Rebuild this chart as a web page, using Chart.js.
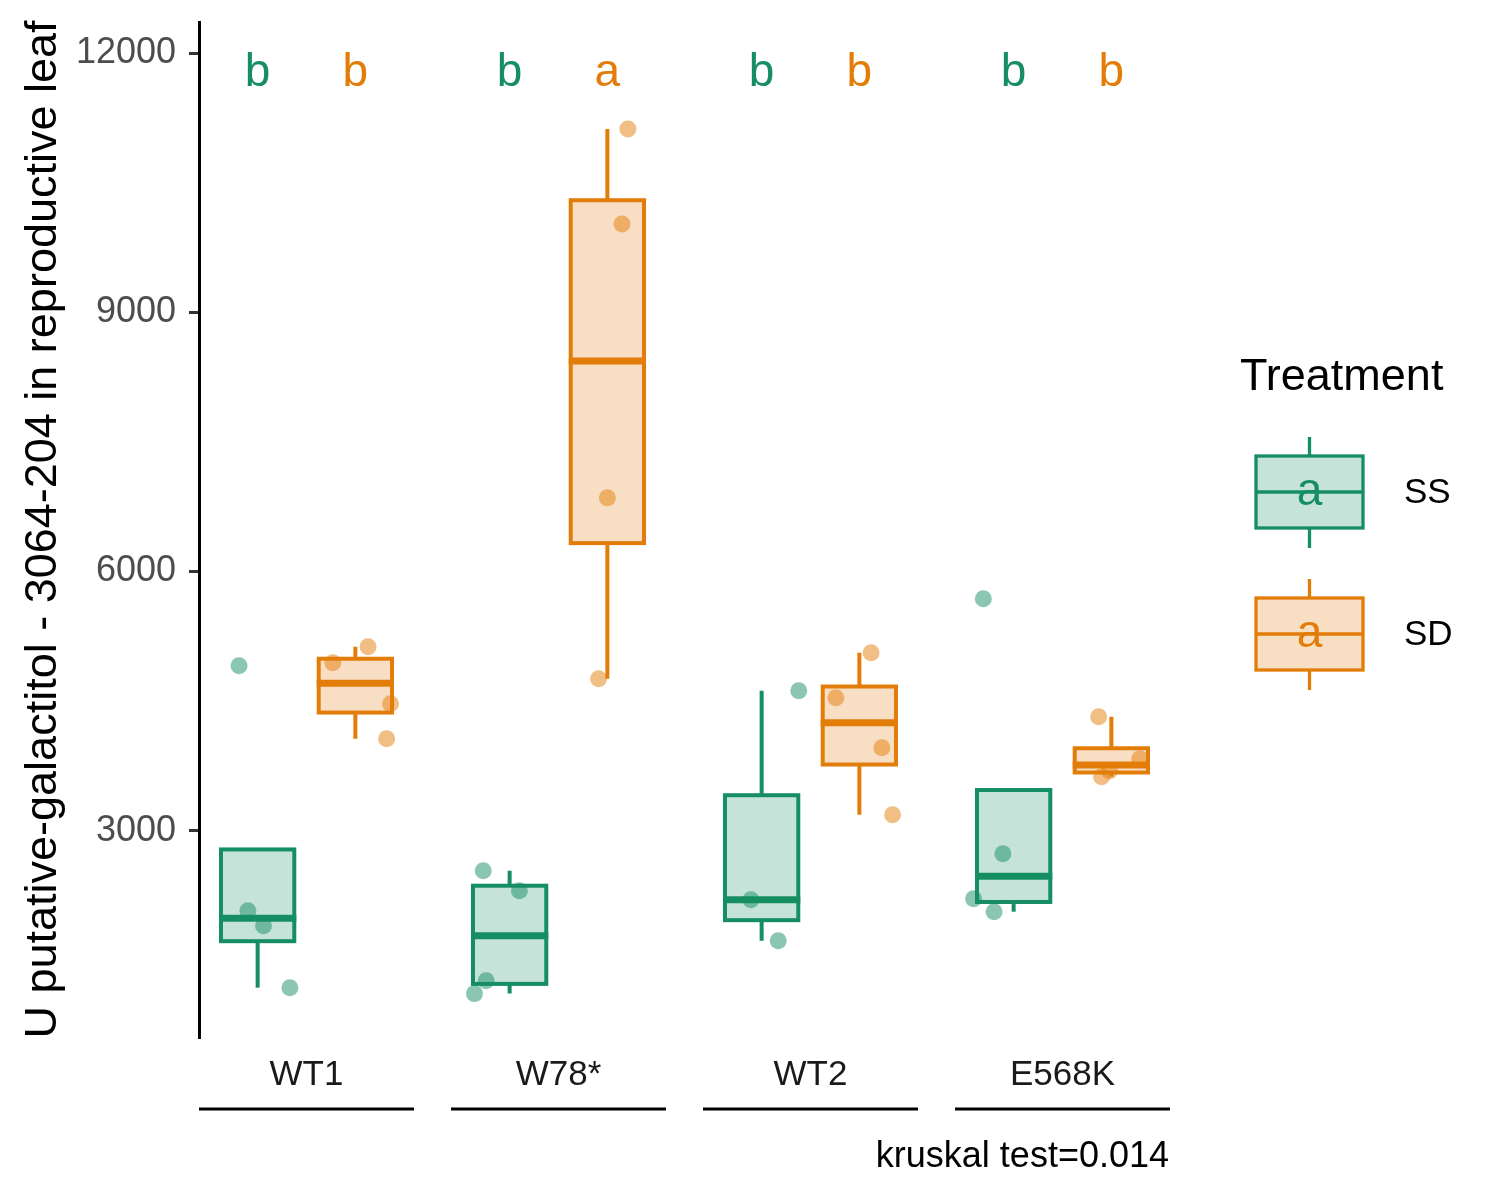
<!DOCTYPE html>
<html lang="en">
<head>
    <meta charset="UTF-8">
    <title>U putative-galactitol - 3064-204</title>
    <script src="https://cdn.jsdelivr.net/npm/chart.js@4.4.1/dist/chart.umd.min.js"></script>
    <style>
        body {
            margin: 0;
            padding: 0;
            background: #ffffff;
        }
        #wrap {
            width: 1500px;
            height: 1200px;
        }
    </style>
</head>
<body>
    <div id="wrap">
        <canvas id="chart" width="1500" height="1200"></canvas>
    </div>

    <script>
        // values
        const genotypes = ['WT1', 'W78*', 'WT2', 'E568K'];
        const treatments = ['SS', 'SD'];
        const ssValues = [
            [4909, 2075, 1901, 1184],
            [2537, 2306, 1265, 1115],
            [4620, 2202, 1728],
            [5684, 2734, 2213, 2063]
        ];
        const sdValues = [
            [5129, 4944, 4469, 4064],
            [11121, 10022, 6852, 4758],
            [5059, 4539, 3960, 3185],
            [4319, 3833, 3625, 3690]
        ];
        // horizontal jitter of each point (in box units)
        const ssJitter = [
            [-0.19, -0.10, 0.06, 0.33],
            [-0.27, 0.10, -0.24, -0.36],
            [0.38, -0.11, 0.17],
            [-0.31, -0.11, -0.41, -0.20]
        ];
        const sdJitter = [
            [0.13, -0.23, 0.36, 0.32],
            [0.21, 0.15, 0.00, -0.09],
            [0.12, -0.24, 0.23, 0.34],
            [-0.13, 0.29, -0.10, -0.02]
        ];
        const ssLetters = ['b', 'b', 'b', 'b'];
        const sdLetters = ['b', 'a', 'b', 'b'];
        const yTicks = [3000, 6000, 9000, 12000];
        const caption = 'kruskal test=0.014';
        const yTitle = 'U putative-galactitol - 3064-204 in reproductive leaf';

        const FONT = '"Liberation Sans", Arial, Helvetica, sans-serif';
        const GREEN = '#168E64';
        const ORANGE = '#E37D0A';
        const GREEN_FILL = 'rgba(22, 142, 100, 0.25)';
        const ORANGE_FILL = 'rgba(227, 125, 10, 0.25)';
        const GREEN_PT = 'rgba(22, 142, 100, 0.5)';
        const ORANGE_PT = 'rgba(227, 125, 10, 0.5)';

        // each genotype is its own panel (like facets), two boxes per panel
        const panelSpan = 2.2;
        const panelStride = 2.5786;
        const boxWidth = 0.75;
        const letterLevel = 11770;

        function quantile(sorted, p) {
            const h = (sorted.length - 1) * p;
            const lo = Math.floor(h);
            const hi = Math.min(lo + 1, sorted.length - 1);
            return sorted[lo] + (h - lo) * (sorted[hi] - sorted[lo]);
        }

        function boxStats(vals) {
            const s = [...vals].sort((a, b) => a - b);
            const q1 = quantile(s, 0.25);
            const med = quantile(s, 0.5);
            const q3 = quantile(s, 0.75);
            const iqr = q3 - q1;
            const lo = s.find(v => v >= q1 - 1.5 * iqr);
            const hi = [...s].reverse().find(v => v <= q3 + 1.5 * iqr);
            return { q1, med, q3, lo, hi };
        }

        const groups = [];
        genotypes.forEach((g, i) => {
            groups.push({ x: i * panelStride + 0.6, values: ssValues[i], jitter: ssJitter[i], letter: ssLetters[i], color: GREEN, fill: GREEN_FILL });
            groups.push({ x: i * panelStride + 1.6, values: sdValues[i], jitter: sdJitter[i], letter: sdLetters[i], color: ORANGE, fill: ORANGE_FILL });
        });

        function pointsFor(groupIndexes) {
            const out = [];
            groupIndexes.forEach(gi => {
                const g = groups[gi];
                g.values.forEach((v, j) => out.push({ x: g.x + g.jitter[j], y: v }));
            });
            return out;
        }

        const boxPlugin = {
            id: 'boxes',
            beforeDatasetsDraw(chart) {
                const { ctx, scales: { x, y } } = chart;
                ctx.save();
                groups.forEach(g => {
                    const s = boxStats(g.values);
                    const cx = x.getPixelForValue(g.x);
                    const left = x.getPixelForValue(g.x - boxWidth / 2);
                    const right = x.getPixelForValue(g.x + boxWidth / 2);
                    const top = y.getPixelForValue(s.q3);
                    const bottom = y.getPixelForValue(s.q1);

                    ctx.strokeStyle = g.color;
                    ctx.lineWidth = 4;
                    ctx.lineCap = 'butt';
                    // whiskers
                    ctx.beginPath();
                    if (s.hi > s.q3) {
                        ctx.moveTo(cx, top);
                        ctx.lineTo(cx, y.getPixelForValue(s.hi));
                    }
                    if (s.lo < s.q1) {
                        ctx.moveTo(cx, bottom);
                        ctx.lineTo(cx, y.getPixelForValue(s.lo));
                    }
                    ctx.stroke();

                    // box
                    ctx.fillStyle = '#ffffff';
                    ctx.fillRect(left, top, right - left, bottom - top);
                    ctx.fillStyle = g.fill;
                    ctx.fillRect(left, top, right - left, bottom - top);
                    ctx.strokeRect(left, top, right - left, bottom - top);

                    // median
                    const my = y.getPixelForValue(s.med);
                    ctx.lineWidth = 7;
                    ctx.beginPath();
                    ctx.moveTo(left - 2, my);
                    ctx.lineTo(right + 2, my);
                    ctx.stroke();
                });
                ctx.restore();
            },
            afterDatasetsDraw(chart) {
                const { ctx, scales: { x, y } } = chart;
                ctx.save();
                ctx.font = '46px ' + FONT;
                ctx.textAlign = 'center';
                ctx.textBaseline = 'middle';
                groups.forEach(g => {
                    ctx.fillStyle = g.color;
                    ctx.fillText(g.letter, x.getPixelForValue(g.x), y.getPixelForValue(letterLevel));
                });
                ctx.restore();
            },
            afterDraw(chart) {
                const { ctx, chartArea, scales: { x } } = chart;
                ctx.save();
                // strip lines under the genotype labels
                ctx.strokeStyle = '#000000';
                ctx.lineWidth = 3;
                genotypes.forEach((g, i) => {
                    const a = x.getPixelForValue(i * panelStride);
                    const b = x.getPixelForValue(i * panelStride + panelSpan);
                    ctx.beginPath();
                    ctx.moveTo(a, 1109);
                    ctx.lineTo(b, 1109);
                    ctx.stroke();
                });

                // caption
                ctx.fillStyle = '#000000';
                ctx.font = '36px ' + FONT;
                ctx.textAlign = 'right';
                ctx.textBaseline = 'middle';
                ctx.fillText(caption, chartArea.right - 1, 1157);

                // legend
                ctx.textAlign = 'left';
                ctx.font = '45px ' + FONT;
                ctx.fillText('Treatment', 1240, 378);
                const keyLeft = 1256, keyW = 107, keyH = 72;
                const keyTops = [456, 598];
                const colors = [GREEN, ORANGE];
                const fills = [GREEN_FILL, ORANGE_FILL];
                treatments.forEach((t, i) => {
                    const top = keyTops[i];
                    const cx = keyLeft + keyW / 2;
                    const mid = top + keyH / 2;
                    ctx.strokeStyle = colors[i];
                    ctx.lineWidth = 3.3;
                    ctx.beginPath();
                    ctx.moveTo(cx, top - 19);
                    ctx.lineTo(cx, top);
                    ctx.moveTo(cx, top + keyH);
                    ctx.lineTo(cx, top + keyH + 20);
                    ctx.stroke();
                    ctx.fillStyle = fills[i];
                    ctx.fillRect(keyLeft, top, keyW, keyH);
                    ctx.strokeRect(keyLeft, top, keyW, keyH);
                    ctx.beginPath();
                    ctx.moveTo(keyLeft, mid);
                    ctx.lineTo(keyLeft + keyW, mid);
                    ctx.stroke();

                    ctx.fillStyle = colors[i];
                    ctx.font = '46px ' + FONT;
                    ctx.textAlign = 'center';
                    ctx.fillText('a', cx, mid);

                    ctx.fillStyle = '#000000';
                    ctx.font = '35px ' + FONT;
                    ctx.textAlign = 'left';
                    ctx.fillText(t, 1404, mid + 1);
                });
                ctx.restore();
            }
        };

        Chart.defaults.font.family = FONT;

        new Chart(document.getElementById('chart'), {
            type: 'scatter',
            data: {
                datasets: [
                    {
                        label: 'SS',
                        data: pointsFor([0, 2, 4, 6]),
                        backgroundColor: GREEN_PT,
                        borderWidth: 0,
                        pointRadius: 8.5,
                        pointHoverRadius: 8.5
                    },
                    {
                        label: 'SD',
                        data: pointsFor([1, 3, 5, 7]),
                        backgroundColor: ORANGE_PT,
                        borderWidth: 0,
                        pointRadius: 8.5,
                        pointHoverRadius: 8.5
                    }
                ]
            },
            options: {
                responsive: false,
                animation: false,
                devicePixelRatio: 1,
                layout: {
                    padding: { left: 21, top: 22, right: 330, bottom: 0 }
                },
                plugins: {
                    legend: { display: false },
                    tooltip: { enabled: false }
                },
                scales: {
                    x: {
                        type: 'linear',
                        min: 0,
                        max: 3 * panelStride + panelSpan,
                        grid: { display: false, drawTicks: false },
                        border: { display: false },
                        afterFit(scale) {
                            scale.height = 163;
                            scale.paddingLeft = 0;
                            scale.paddingRight = 0;
                        },
                        afterBuildTicks(scale) {
                            scale.ticks = genotypes.map((g, i) => ({ value: i * panelStride + panelSpan / 2 }));
                        },
                        ticks: {
                            autoSkip: false,
                            maxRotation: 0,
                            padding: 17,
                            color: '#1a1a1a',
                            font: { size: 35 },
                            callback: (v, i) => genotypes[i]
                        }
                    },
                    y: {
                        min: 613,
                        max: 12359,
                        afterFit(scale) {
                            scale.width = 178;
                            scale.paddingTop = 0;
                            scale.paddingBottom = 0;
                        },
                        afterBuildTicks(scale) {
                            scale.ticks = yTicks.map(v => ({ value: v }));
                        },
                        grid: {
                            drawOnChartArea: false,
                            drawTicks: true,
                            tickLength: 10,
                            tickColor: '#333333',
                            lineWidth: 3
                        },
                        border: { display: true, color: '#000000', width: 3 },
                        ticks: {
                            padding: 13,
                            color: '#4d4d4d',
                            font: { size: 36 },
                            callback: v => String(v)
                        },
                        title: {
                            display: true,
                            text: yTitle,
                            color: '#000000',
                            padding: 0,
                            font: { size: 45, lineHeight: 1 }
                        }
                    }
                }
            },
            plugins: [boxPlugin]
        });
    </script>
</body>
</html>
